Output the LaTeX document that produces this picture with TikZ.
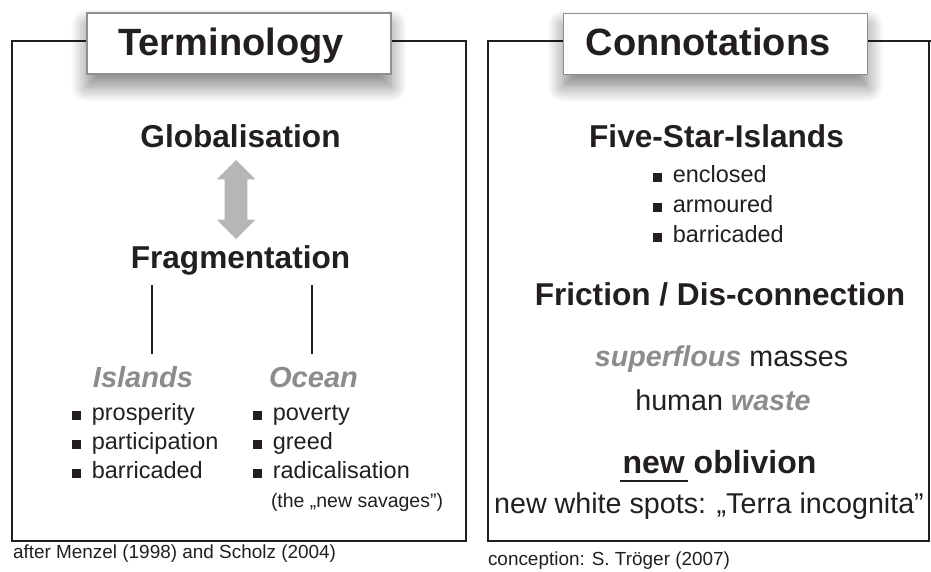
\documentclass[tikz,border=0pt]{standalone}
\usepackage{fontspec}
\setmainfont{Liberation Sans}
\usetikzlibrary{shapes.arrows,shadows.blur}

\definecolor{ink}{HTML}{231F20}
\definecolor{greytext}{HTML}{8B8C8E}
\definecolor{arrowgrey}{HTML}{B5B6B8}
\definecolor{boxline}{HTML}{8F8F8F}

\newcommand{\sqbullet}{\rule{6.7pt}{6.7pt}\hspace{8.2pt}}
\newcommand{\thickul}[1]{\setbox0\hbox{#1}\makebox[0pt][l]{\hspace{-2pt}\rule[-6.9pt]{\dimexpr\wd0+4pt\relax}{1.6pt}}#1}

\begin{document}
\begin{tikzpicture}[x=0.75pt,y=-0.75pt,
  every node/.style={inner sep=0pt,outer sep=0pt,text=ink},
  frame/.style={draw=ink,line width=1.1pt},
  titlebox/.style={draw=boxline,line width=1.2pt,fill=white,
    minimum width=228pt,minimum height=45.75pt,
    blur shadow={shadow xshift=0pt,shadow yshift=-9pt,
      shadow blur radius=12pt,shadow opacity=50,shadow blur steps=14}},
  titletext/.style={font=\fontsize{28.5}{30}\selectfont\bfseries},
  heading/.style={font=\fontsize{23.7}{26}\selectfont\bfseries},
  keyword/.style={font=\fontsize{21.8}{24}\selectfont\bfseries\itshape,text=greytext},
  item/.style={font=\fontsize{17.6}{20}\selectfont},
  remark/.style={font=\fontsize{21.5}{24}\selectfont},
  source/.style={font=\fontsize{14.2}{16}\selectfont},
  link/.style={draw=ink,line width=1.5pt}]

  \useasboundingbox (0,0) rectangle (931,571);

  % Left panel: terminology

  \draw[frame] (12,41) rectangle (466,541);
  \node[titlebox] (termbox) at (239,43.5) {};
  \node[titletext,anchor=base] (term) at (231,55) {Terminology};

  \node[heading,anchor=base] (glob) at (240.5,147) {Globalisation};
  \node[double arrow,fill=arrowgrey,shape border rotate=90,
    inner sep=8.25pt,minimum height=59.25pt,minimum width=28.5pt,
    double arrow head extend=6pt] (swing) at (236,199.5) {};
  \node[heading,anchor=base] (frag) at (240.5,268) {Fragmentation};

  \coordinate (islandsup) at (152,285);
  \coordinate (islandsdown) at (152,354);
  \coordinate (oceanup) at (312,285);
  \coordinate (oceandown) at (312,354);
  \path[link] (islandsup) -- (islandsdown);
  \path[link] (oceanup) -- (oceandown);

  \node[keyword,anchor=base] (islands) at (143,387) {Islands};
  \node[item,anchor=base west] (prosp) at (72,420) {\sqbullet prosperity};
  \node[item,anchor=base west] (partic) at (72,449) {\sqbullet participation};
  \node[item,anchor=base west] (barric) at (72,478) {\sqbullet barricaded};

  \node[keyword,anchor=base] (ocean) at (313.5,387) {Ocean};
  \node[item,anchor=base west] (poverty) at (253,420) {\sqbullet poverty};
  \node[item,anchor=base west] (greed) at (253,449) {\sqbullet greed};
  \node[item,anchor=base west] (radical) at (253,478) {\sqbullet radicalisation};
  \node[font=\fontsize{14.6}{16}\selectfont,anchor=base west] (savages) at (271,507) {(the „new savages”)};

  \node[source,anchor=base west] (after) at (13,558) {after Menzel (1998) and Scholz (2004)};

  % Right panel: connotations

  \draw[frame] (931,41) -- (488,41) -- (488,541) -- (929,541) -- (929,41);
  \node[titlebox] (connbox) at (715.5,44) {};
  \node[titletext,anchor=base] (conn) at (708,55) {Connotations};

  \node[heading,anchor=base] (five) at (716.5,147) {Five-Star-Islands};
  \node[item,anchor=base west] (enclosed) at (653,182) {\sqbullet enclosed};
  \node[item,anchor=base west] (armoured) at (653,212) {\sqbullet armoured};
  \node[item,anchor=base west] (barric2) at (653,242) {\sqbullet barricaded};

  \node[heading,anchor=base] (friction) at (720,305) {Friction / Dis-connection};

  \node[remark,anchor=base] (masses) at (721.5,366)
    {\textcolor{greytext}{\bfseries\itshape superflous} masses};
  \node[remark,anchor=base] (waste) at (723,410)
    {human \textcolor{greytext}{\bfseries\itshape waste}};

  \node[heading,font=\fontsize{24}{26}\selectfont\bfseries,anchor=base] (oblivion) at (719.5,473)
    {\thickul{new} oblivion};
  \node[remark,anchor=base] (spots) at (709,513) {new white spots: „Terra incognita”};

  \node[source,anchor=base west] (concept) at (488,565) {conception: S. Tröger (2007)};
\end{tikzpicture}
\end{document}
